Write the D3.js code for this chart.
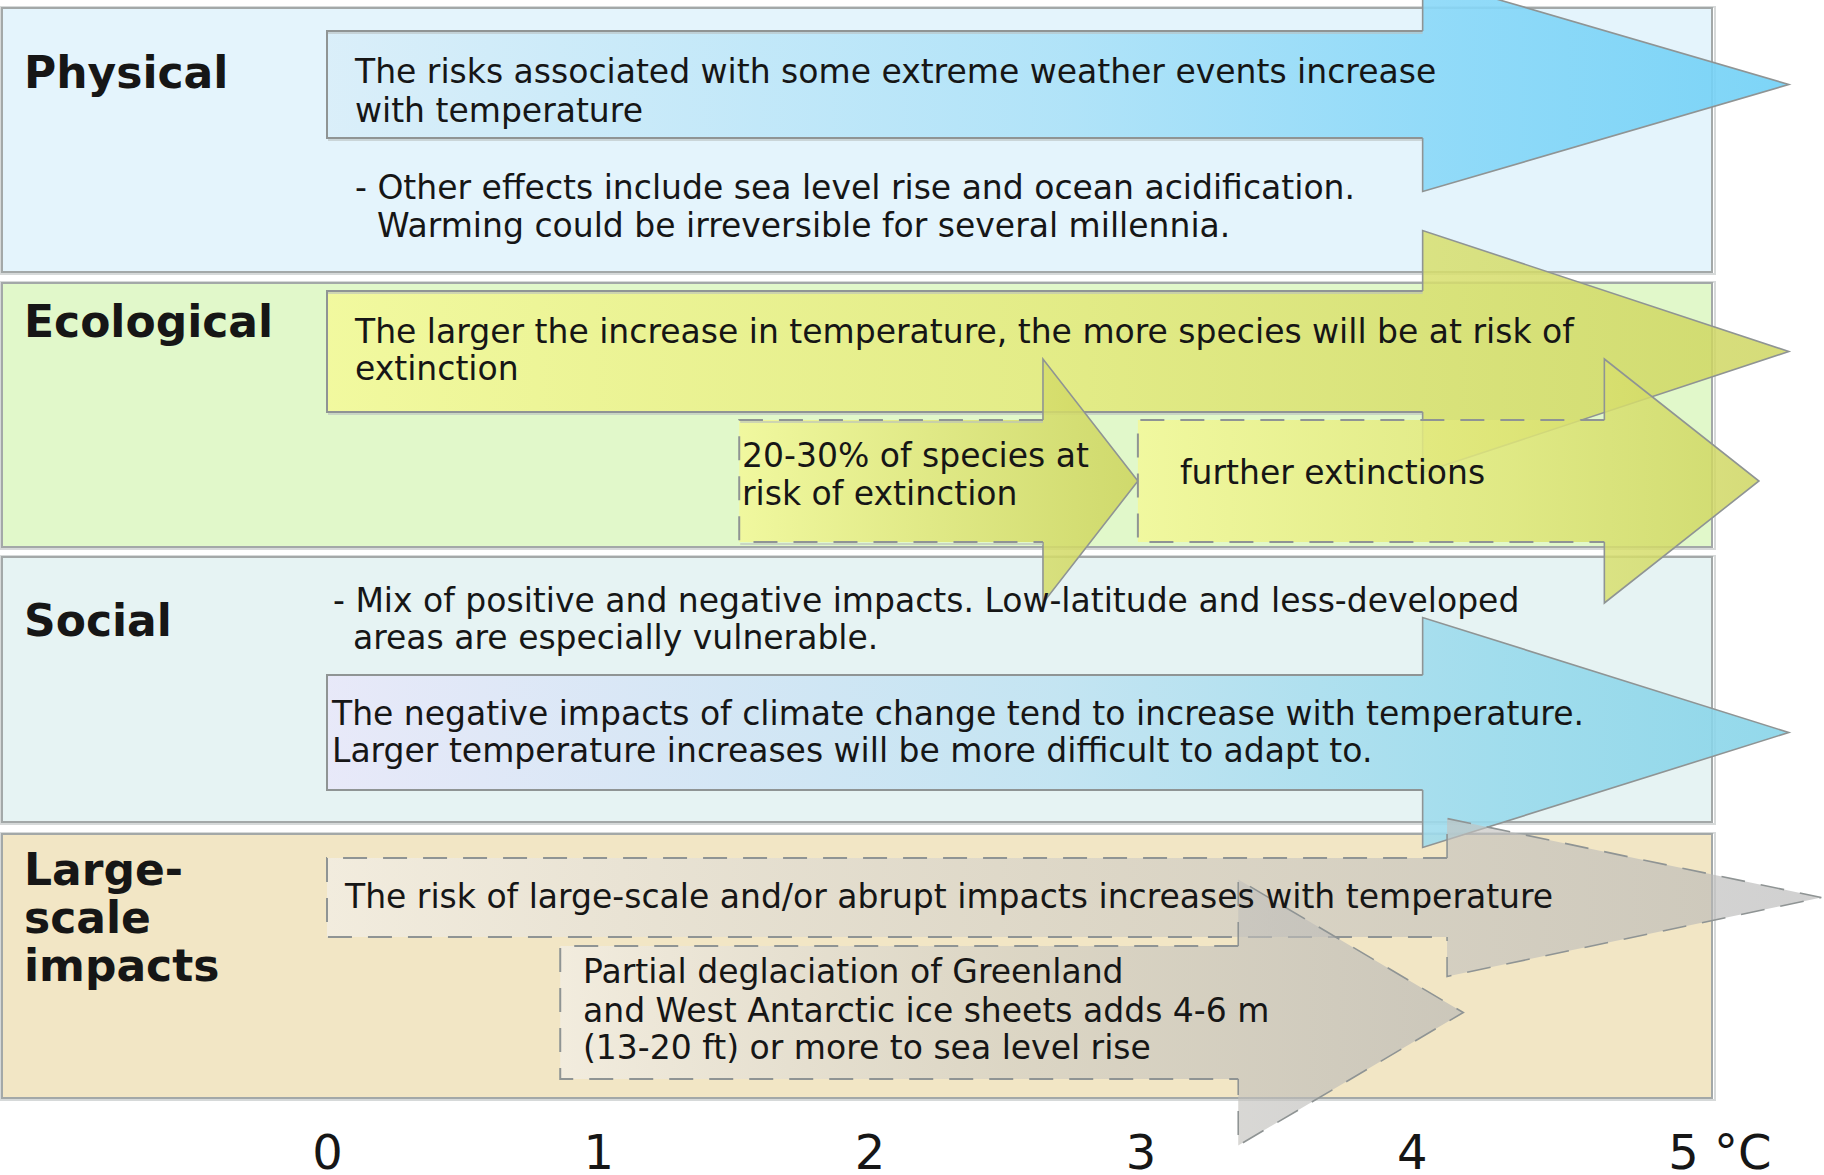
<!DOCTYPE html>
<html>
<head>
<meta charset="utf-8">
<script src="https://cdn.jsdelivr.net/npm/d3@7"></script>
<style>
  html, body { margin: 0; padding: 0; background: #ffffff; }
  svg { display: block; }
  text { font-family: "DejaVu Sans", sans-serif; fill: #161616; }
</style>
</head>
<body>
<script>
// ---------------- DATA ----------------
const categories = ["Physical", "Ecological", "Social", "Large-scale impacts"];
const categoryLabelLines = [["Physical"], ["Ecological"], ["Social"], ["Large-", "scale", "impacts"]];

const tempTicks = [0, 1, 2, 3, 4, 5];
const tickLabels = ["0", "1", "2", "3", "4", "5 °C"];

// arrows (temperature in °C): where the bar starts, where the head begins, where the tip is
const arrowCategory = [0, 1, 1, 1, 2, 3, 3];
const arrowStart    = [0, 0, 1.52, 2.99, 0, 0, 0.86];
const arrowHeadBase = [4.04, 4.04, 2.64, 4.71, 4.04, 4.13, 3.36];
const arrowTip      = [5.39, 5.39, 2.99, 5.28, 5.39, 5.51, 4.19];
const arrowTexts = [
  ["The risks associated with some extreme weather events increase", "with temperature"],
  ["The larger the increase in temperature, the more species will be at risk of", "extinction"],
  ["20-30% of species at", "risk of extinction"],
  ["further extinctions"],
  ["The negative impacts of climate change tend to increase with temperature.", "Larger temperature increases will be more difficult to adapt to."],
  ["The risk of large-scale and/or abrupt impacts increases with temperature"],
  ["Partial deglaciation of Greenland", "and West Antarctic ice sheets adds 4-6 m", "(13-20 ft) or more to sea level rise"]
];

// free notes inside panels
const noteCategory = [0, 2];
const noteTexts = [
  ["- Other effects include sea level rise and ocean acidification.", "Warming could be irreversible for several millennia."],
  ["- Mix of positive and negative impacts. Low-latitude and less-developed", "areas are especially vulnerable."]
];

// ---------------- LAYOUT / STYLE ----------------
const W = 1824, H = 1175;
const panelTop    = [8, 283, 557, 834];
const panelBottom = [272, 547, 822, 1098];
const panelFill   = ["#e4f4fc", "#e1f8ca", "#e6f3f3", "#f2e6c5"];
const labelBaselines = [[88], [337], [636], [885, 933, 981]];

const arrowBodyTop    = [31, 291, 420, 420, 675, 858, 946];
const arrowBodyBottom = [138, 412, 542, 542, 790, 937, 1079];
const arrowTextX      = [355, 355, 742, 1180, 332, 345, 583];
const arrowTextBase   = [[83, 122], [343, 380], [467, 505], [484], [725, 762], [908], [983, 1022, 1059]];
const arrowDashBody   = [false, false, true, true, false, true, true];
const arrowDashHead   = [false, false, false, false, false, true, true];
const arrowGrad = [
  {stops: [[0, "#d9eef9", 0.92], [0.5, "#ade2f8", 0.92], [0.78, "#86d7f8", 0.9], [1, "#6fd0f6", 0.9]]},
  {stops: [[0, "#f3f99a", 0.9], [0.5, "#e3ea7e", 0.88], [1, "#ccd45c", 0.82]]},
  {stops: [[0, "#f2f89a", 0.9], [1, "#ccd45c", 0.85]]},
  {stops: [[0, "#f2f89a", 0.9], [0.6, "#dfe678", 0.85], [1, "#ccd45c", 0.82]]},
  {stops: [[0, "#e8e8f9", 0.92], [0.5, "#c0e3f2", 0.9], [0.8, "#98daec", 0.88], [1, "#84d3e8", 0.88]]},
  {stops: [[0, "#f2eee6", 0.75], [0.5, "#d2cfc8", 0.65], [1, "#b4b4b4", 0.62]]},
  {stops: [[0, "#f2eee6", 0.75], [0.5, "#d0cdc4", 0.65], [1, "#b4b4b4", 0.62]]}
];
const noteX = [[355, 377], [333, 353]];
const noteBase = [[199, 237], [612, 649]];

const x = d3.scaleLinear().domain([0, 5]).range([327, 1683]);

// ---------------- DRAW ----------------
const svg = d3.select("body").append("svg").attr("width", W).attr("height", H);
const defs = svg.append("defs");

// panels
const panels = svg.append("g").selectAll("g").data(categories).join("g");
panels.append("rect")
  .attr("x", 1).attr("y", (d, i) => panelTop[i] - 1)
  .attr("width", 1714).attr("height", (d, i) => panelBottom[i] - panelTop[i] + 3)
  .attr("fill", "none").attr("stroke", "#d6d9d9").attr("stroke-width", 2);
panels.append("rect")
  .attr("x", 2).attr("y", (d, i) => panelTop[i])
  .attr("width", 1710).attr("height", (d, i) => panelBottom[i] - panelTop[i])
  .attr("fill", (d, i) => panelFill[i]).attr("stroke", "#a3a8a8").attr("stroke-width", 2);

// gradients
arrowGrad.forEach((g, i) => {
  const lg = defs.append("linearGradient").attr("id", "ag" + i)
    .attr("gradientUnits", "userSpaceOnUse")
    .attr("x1", x(arrowStart[i])).attr("x2", x(arrowTip[i])).attr("y1", 0).attr("y2", 0);
  g.stops.forEach(s => lg.append("stop").attr("offset", s[0]).attr("stop-color", s[1]).attr("stop-opacity", s[2]));
});

// arrows
const arrows = svg.append("g").selectAll("g").data(arrowStart).join("g");
function pts(i) {
  const x0 = x(arrowStart[i]), xb = x(arrowHeadBase[i]), xt = x(arrowTip[i]);
  const t = arrowBodyTop[i], b = arrowBodyBottom[i], h = b - t, c = (t + b) / 2;
  return {x0, xb, xt, t, b, c, ht: t - h / 2, hb: b + h / 2};
}
arrows.append("path")
  .attr("d", (d, i) => {
    const p = pts(i);
    return `M${p.x0},${p.t}L${p.xb},${p.t}L${p.xb},${p.ht}L${p.xt},${p.c}L${p.xb},${p.hb}L${p.xb},${p.b}L${p.x0},${p.b}Z`;
  })
  .attr("fill", (d, i) => `url(#ag${i})`).attr("stroke", "none");
// soft shadow under body edges (solid arrows)
arrows.filter((d, i) => !arrowDashBody[i]).append("path")
  .attr("d", (d, i) => {
    const p = pts(i);
    return `M${p.x0 + 1},${p.t + 2}L${p.xb},${p.t + 2}M${p.x0 + 1},${p.b + 2}L${p.xb},${p.b + 2}`;
  })
  .attr("fill", "none").attr("stroke", "#b9c0c0").attr("stroke-opacity", 0.6).attr("stroke-width", 2);
// body outline
arrows.append("path")
  .attr("d", (d, i) => {
    const p = pts(i);
    return `M${p.xb},${p.t}L${p.x0},${p.t}L${p.x0},${p.b}L${p.xb},${p.b}`;
  })
  .attr("fill", "none").attr("stroke", "#8f9494").attr("stroke-width", 2)
  .attr("stroke-dasharray", (d, i) => arrowDashBody[i] ? "24,16" : null);
// head outline
arrows.append("path")
  .attr("d", (d, i) => {
    const p = pts(i);
    return `M${p.xb},${p.t}L${p.xb},${p.ht}L${p.xt},${p.c}L${p.xb},${p.hb}L${p.xb},${p.b}`;
  })
  .attr("fill", "none").attr("stroke", "#8f9494").attr("stroke-width", 1.6)
  .attr("stroke-dasharray", (d, i) => arrowDashHead[i] ? "24,16" : null);

// category labels
const labels = svg.append("g").selectAll("text").data(categories).join("text")
  .attr("font-size", 44).attr("font-weight", "bold");
labels.each(function(d, i) {
  d3.select(this).selectAll("tspan").data(categoryLabelLines[i]).join("tspan")
    .attr("x", 24).attr("y", (l, j) => labelBaselines[i][j]).text(l => l);
});

// arrow texts
const atext = svg.append("g").selectAll("text").data(arrowTexts).join("text").attr("font-size", 33);
atext.each(function(lines, i) {
  d3.select(this).selectAll("tspan").data(lines).join("tspan")
    .attr("x", arrowTextX[i]).attr("y", (l, j) => arrowTextBase[i][j]).text(l => l);
});

// notes
const ntext = svg.append("g").selectAll("text").data(noteTexts).join("text").attr("font-size", 33);
ntext.each(function(lines, i) {
  d3.select(this).selectAll("tspan").data(lines).join("tspan")
    .attr("x", (l, j) => noteX[i][j]).attr("y", (l, j) => noteBase[i][j]).text(l => l);
});

// temperature axis
const axis = d3.axisBottom(x).tickValues(tempTicks).tickSize(0).tickFormat((d, i) => tickLabels[i]);
const ax = svg.append("g").attr("transform", "translate(0,1127)").call(axis);
ax.select(".domain").remove();
ax.selectAll(".tick text")
  .attr("font-size", 48).attr("font-family", "DejaVu Sans, sans-serif").attr("fill", "#161616")
  .attr("y", 0).attr("dy", "0.88em")
  .attr("text-anchor", (d, i) => i === tickLabels.length - 1 ? "start" : "middle")
  .attr("dx", (d, i) => i === tickLabels.length - 1 ? -15.3 : 0);
</script>
</body>
</html>
